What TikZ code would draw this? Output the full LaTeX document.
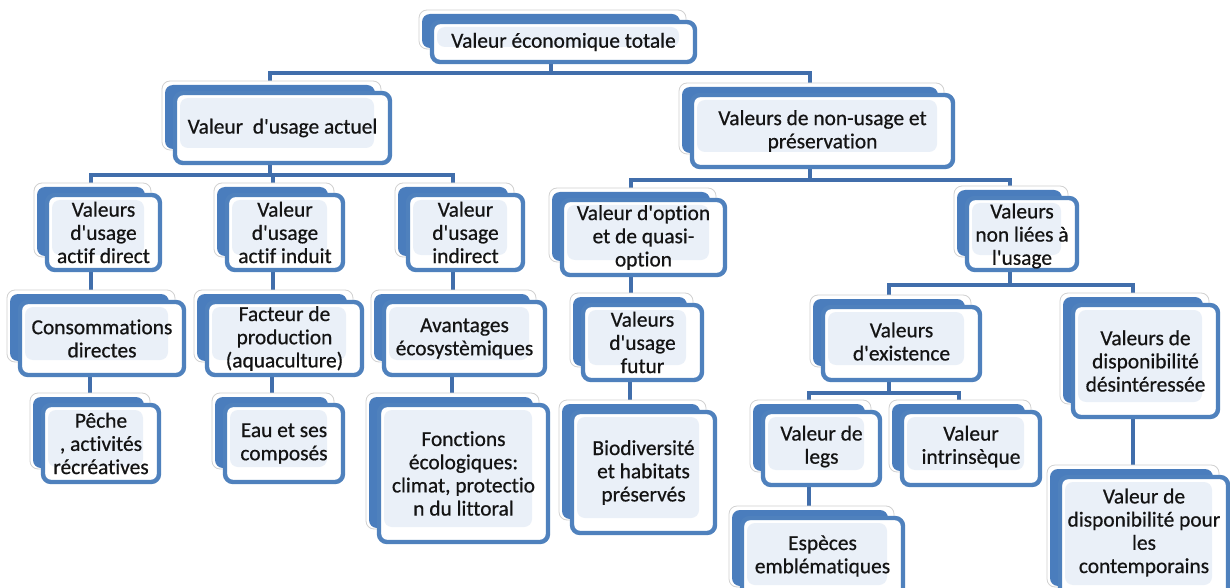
\documentclass[tikz,border=0pt]{standalone}
\usepackage{fontspec}
\setmainfont{Carlito}[Ligatures={TeX,NoCommon},UprightFeatures={FakeBold=0.6}]
\usetikzlibrary{backgrounds,calc}
\definecolor{cblue}{HTML}{4F81BD}
\definecolor{cback}{HTML}{4A7DBD}
\definecolor{cline}{HTML}{416EAB}
\definecolor{cinner}{HTML}{EAF0F8}
\definecolor{ctext}{HTML}{141414}
\newcommand\ap{\textquotesingle}
\tikzset{
  ghostbox/.style={draw=black!18, line width=0.4pt, fill=white, rounded corners=4pt, inner sep=0pt, outer sep=0pt},
  backbox/.style={fill=cback, rounded corners=4pt, inner sep=0pt, outer sep=0pt},
  frontbox/.style={draw=cblue, line width=2.2pt, fill=white, rounded corners=4pt, inner sep=0pt, outer sep=0pt,
    path picture={\fill[cinner] ([xshift=2.5pt,yshift=-2.5pt]path picture bounding box.north west) rectangle ([xshift=-8pt,yshift=7.5pt]path picture bounding box.south east);}},
  cardtext/.style={align=center, text=ctext, font=\fontsize{10.7}{11.6}\selectfont, inner sep=0pt},
  conn/.style={draw=cline, line width=2pt},
}
% #1 name, #2 x1, #3 y1, #4 x2, #5 y2 (front box, px), #6 text dy, #7 text
\newcommand\card[7]{%
  \pgfmathsetmacro\cw{(#4-#2)*0.5}%
  \pgfmathsetmacro\ch{(#5-#3)*0.5}%
  \pgfmathsetmacro\cx{(#2+#4)/2}%
  \pgfmathsetmacro\cy{(#3+#5)/2}%
  \node[ghostbox, minimum width=\cw pt+2pt, minimum height=\ch pt-0.5pt] (#1-g) at (\cx-11,\cy-12.5) {};
  \node[backbox, minimum width=\cw pt-2.5pt, minimum height=\ch pt-3pt] (#1-b) at (\cx-12.5,\cy-11) {};
  \node[frontbox, minimum width=\cw pt, minimum height=\ch pt] (#1) at (\cx,\cy) {};
  \node[cardtext] (#1-t) at (\cx,\cy+#6) {#7};
}
\begin{document}
\begin{tikzpicture}[x=0.5pt,y=-0.5pt]
\useasboundingbox (0,0) rectangle (1230,588);
\clip (0,0) rectangle (1230,588);
\begin{scope}[on background layer]
  \fill[white] (0,0) rectangle (1230,588);
\end{scope}

\card{tot}{432}{22}{695}{62}{0}{Valeur économique totale}
\card{act}{175}{93}{390}{163}{0}{Valeur\ \ d\ap usage actuel}
\card{non}{692}{95}{953}{167}{0}{Valeurs de non-usage et\\préservation}
\card{dir}{47}{195}{160}{270}{0}{Valeurs\\d\ap usage\\actif direct}
\card{ind}{227}{195}{343}{270}{0}{Valeur\\d\ap usage\\actif induit}
\card{indir}{408}{195}{523}{270}{0}{Valeur\\d\ap usage\\indirect}
\card{opt}{562}{200}{725}{275}{0}{Valeur d\ap option\\et de quasi-\\option}
\card{nonl}{967}{198}{1077}{270}{2}{Valeurs\\non liées à\\l\ap usage}
\card{cons}{20}{302}{184}{375}{0}{Consommations\\directes}
\card{fact}{207}{302}{362}{375}{0}{Facteur de\\production\\(aquaculture)}
\card{avan}{384}{302}{545}{375}{0}{Avantages\\écosystèmiques}
\card{fut}{583}{305}{702}{380}{0}{Valeurs\\d\ap usage\\futur}
\card{exi}{823}{307}{980}{380}{-2}{Valeurs\\d\ap existence}
\card{desi}{1073}{305}{1218}{417}{0}{Valeurs de\\disponibilité\\désintéressée}
\card{peche}{43}{405}{159}{482}{0}{Pêche\\, activités\\récréatives}
\card{eau}{225}{405}{343}{482}{0}{Eau et ses\\composés}
\card{fonc}{379}{405}{548}{542}{0}{Fonctions\\écologiques:\\climat, protectio\\n du littoral}
\card{bio}{572}{412}{715}{533}{0}{Biodiversité\\et habitats\\préservés}
\card{legs}{763}{412}{880}{485}{-2}{Valeur de\\legs}
\card{intr}{902}{412}{1040}{485}{-2}{Valeur\\intrinsèque}
\card{emb}{742}{518}{903}{600}{-3}{Espèces\\emblématiques}
\card{cont}{1060}{477}{1228}{600}{-6}{Valeur de\\disponibilité pour\\les\\contemporains}

\begin{scope}[on background layer]
  \coordinate (b0) at (0,73);
  \coordinate (b1) at (0,175);
  \coordinate (b2) at (0,180);
  \coordinate (b3) at (0,285);
  \coordinate (b4) at (0,393);
  % level 1
  \draw[conn] (tot-b.center) -- (tot-b.center |- b0) -| (act-b.center);
  \draw[conn] (tot-b.center |- b0) -| (non-b.center);
  % under actual use
  \draw[conn] (act-b.center) -- (act-b.center |- b1) -| (dir-b.center);
  \draw[conn] (act-b.center |- b1) -| (indir-b.center);
  \draw[conn] (act-b.center |- b1) -| (ind-b.center);
  \draw[conn] (dir-b.center) -- (dir-b.center |- cons-b.center);
  \draw[conn] (cons-b.center) -- (cons-b.center |- peche-b.center);
  \draw[conn] (ind-b.center) -- (ind-b.center |- fact-b.center);
  \draw[conn] (fact-b.center) -- (fact-b.center |- eau-b.center);
  \draw[conn] (indir-b.center) -- (indir-b.center |- avan-b.center);
  \draw[conn] (avan-b.center) -- (avan-b.center |- fonc-b.center);
  % under non-use
  \draw[conn] (non-b.center) -- (non-b.center |- b2) -| (opt-b.center);
  \draw[conn] (non-b.center |- b2) -| (nonl-b.center);
  \draw[conn] (opt-b.center) -- (opt-b.center |- fut-b.center);
  \draw[conn] (fut-b.center) -- (fut-b.center |- bio-b.center);
  \draw[conn] (nonl-b.center) -- (nonl-b.center |- b3) -| (exi-b.center);
  \draw[conn] (nonl-b.center |- b3) -| (desi-b.center);
  \draw[conn] (exi-b.center) -- (exi-b.center |- b4) -| (legs-b.center);
  \draw[conn] (exi-b.center |- b4) -| (intr-b.center);
  \draw[conn] (legs-b.center) -- (legs-b.center |- emb-b.center);
  \draw[conn] (desi-b.center) -- (desi-b.center |- cont-b.center);
\end{scope}
\end{tikzpicture}
\end{document}
